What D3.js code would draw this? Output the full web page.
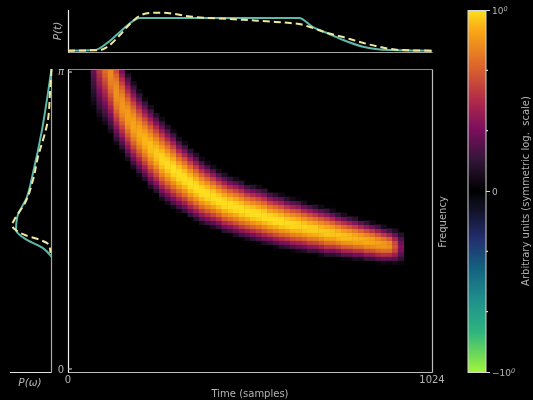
<!DOCTYPE html>
<html>
<head>
<meta charset="utf-8">
<script src="https://cdn.jsdelivr.net/npm/d3@7"></script>
<style>
  html, body { margin: 0; background: #000; }
  svg { display: block; filter: blur(0.3px); }
  text { font-family: "DejaVu Sans", sans-serif; fill: #b4b4b4; font-size: 10px; }
</style>
</head>
<body>
<svg id="chart" width="533" height="400"></svg>
<script>
// P(t), time in samples
const solidT = [0, 76, 110, 146, 203, 650, 689, 729, 774, 830, 906, 1024];
const solidP = [0.008, 0.026, 0.21, 0.5, 0.868, 0.868, 0.63, 0.474, 0.29, 0.113, 0.026, 0.008];
const dashT = [0, 90, 110, 146, 174, 203, 231, 259, 301, 343, 456, 568, 625, 650, 681, 729, 774, 821, 878, 934, 1024];
const dashP = [0.008, 0.026, 0.105, 0.421, 0.711, 0.934, 1.0, 1.008, 0.974, 0.908, 0.842, 0.776, 0.737, 0.711, 0.632, 0.474, 0.368, 0.237, 0.105, 0.026, 0.008];

// P(w), frequency as a fraction of pi
const solidF = [1, 0.921, 0.799, 0.657, 0.578, 0.508, 0.469, 0.436, 0.409, 0.38];
const solidW = [0, 0.089, 0.24, 0.468, 0.62, 0.873, 0.899, 0.62, 0.215, 0];
const dashF = [1, 0.921, 0.832, 0.789, 0.71, 0.634, 0.558, 0.5, 0.485, 0.47, 0.452, 0.436, 0.419, 0.393];
const dashW = [0, 0.038, 0.089, 0.165, 0.342, 0.468, 0.671, 0.95, 1.0, 0.92, 0.671, 0.291, 0.06, 0.025];

// spectrogram, read column by column: ridge frequency, half height and peak level
const firstCol = 4;
const ridgeF = [1.162, 1.109, 1.056, 0.99, 0.921, 0.881, 0.845, 0.815, 0.789, 0.766, 0.743, 0.723, 0.703, 0.686, 0.67, 0.653, 0.64, 0.624, 0.611, 0.597, 0.587, 0.578, 0.568, 0.558, 0.551, 0.545, 0.538, 0.531, 0.526, 0.521, 0.515, 0.508, 0.503, 0.498, 0.493, 0.488, 0.485, 0.48, 0.475, 0.472, 0.467, 0.462, 0.459, 0.454, 0.449, 0.446, 0.442, 0.439, 0.434, 0.431, 0.426, 0.422, 0.419, 0.416, 0.413];
const halfF = [0.297, 0.281, 0.248, 0.208, 0.175, 0.158, 0.152, 0.149, 0.145, 0.142, 0.142, 0.139, 0.139, 0.135, 0.132, 0.125, 0.122, 0.119, 0.116, 0.112, 0.109, 0.106, 0.102, 0.102, 0.099, 0.099, 0.099, 0.096, 0.096, 0.096, 0.096, 0.092, 0.092, 0.092, 0.089, 0.089, 0.089, 0.086, 0.086, 0.083, 0.083, 0.083, 0.079, 0.076, 0.076, 0.073, 0.073, 0.069, 0.069, 0.066, 0.066, 0.063, 0.059, 0.059, 0.056];
const peakL = [0.5, 0.72, 0.78, 0.8, 0.82, 0.84, 0.86, 0.88, 0.9, 0.92, 0.94, 0.96, 0.98, 0.99, 1, 1, 1, 1, 1, 1, 1, 1, 1, 1, 1, 1, 1, 1, 1, 1, 1, 1, 1, 1, 0.99, 0.99, 0.98, 0.98, 0.97, 0.97, 0.96, 0.96, 0.95, 0.95, 0.94, 0.93, 0.92, 0.91, 0.9, 0.89, 0.87, 0.85, 0.82, 0.64, 0.36];
// level across the ridge, from centre to edge of the band
const sectionD = [0, 0.1, 0.2, 0.3, 0.4, 0.5, 0.6, 0.7, 0.8, 0.9, 1];
const sectionL = [1, 0.99, 0.94, 0.86, 0.76, 0.65, 0.53, 0.4, 0.27, 0.13, 0];

// colour bar
const colorStops = [-1, -0.89, -0.78, -0.6, -0.42, -0.27, -0.12, -0.05, 0, 0.16, 0.34, 0.5, 0.67, 0.89, 1];
const colorHex = ['#a2f53a', '#66d45e', '#2fb57e', '#1f8f8c', '#14607f', '#233070', '#13142f', '#0a0a14', '#000000', '#2f1535', '#7c0f5e', '#b02a4a', '#d95f2e', '#f9a814', '#fde020'];
const colorTicks = [-1, 0, 1];
const colorMinor = [-2 / 3, -1 / 3, 1 / 3, 2 / 3];

const svg = d3.select('#chart');
const x = d3.scaleLinear().domain([0, 1024]).range([68, 432]);
const y = d3.scaleLinear().domain([0, 1]).range([372, 69]);
const pT = d3.scaleLinear().domain([0, 1]).range([51, 13]);
const pW = d3.scaleLinear().domain([0, 1]).range([51.5, 12]);
const c = d3.scaleLinear().domain(colorStops).range(colorHex).clamp(true);
const cY = d3.scaleLinear().domain([-1, 1]).range([372, 10]);
const across = d3.scaleLinear().domain(sectionD).range(sectionL).clamp(true);

// Heat map
const nRows = 76, colW = 16;
const cells = [];
ridgeF.forEach((r, i) => {
  d3.range(nRows).forEach(row => {
    const f = (row + 0.5) / nRows;
    const v = peakL[i] * across(Math.abs(f - r) / halfF[i]);
    if (v > 0.02) cells.push({ col: i + firstCol, row: row, v: v });
  });
});
svg.append('g')
  .style('filter', 'blur(0.5px)')
  .selectAll('rect')
  .data(cells)
  .enter()
  .append('rect')
  .attr('x', d => x(d.col * colW))
  .attr('y', d => y((d.row + 1) / nRows))
  .attr('width', x(colW) - x(0) + 0.5)
  .attr('height', y(0) - y(1 / nRows) + 0.5)
  .style('fill', d => c(d.v));

// Main frame
const grey = '#bdbdbd';
const frame = (x1, y1, x2, y2, col) => svg.append('line')
  .attr('x1', x1).attr('y1', y1).attr('x2', x2).attr('y2', y2)
  .style('stroke', col).style('stroke-width', 1.2);
frame(68, 69.5, 432.5, 69.5, '#8c8c8c');
frame(432.5, 69.5, 432.5, 372.5, grey);
frame(68, 372.5, 432.5, 372.5, grey);
frame(68.5, 69.5, 68.5, 372.5, '#f0f0f0');
[y(0.99), y(0.01)].forEach(t => frame(68, t, 72, t, grey));

// Top panel
frame(68, 52.5, 432.5, 52.5, '#a8a8a8');
frame(68.5, 10, 68.5, 52.5, '#f0f0f0');
const lineT = d3.line().x(d => x(d[0])).y(d => pT(d[1])).curve(d3.curveMonotoneX);
svg.append('path').attr('d', lineT(d3.zip(solidT, solidP)))
  .style('fill', 'none').style('stroke', '#5fb9aa').style('stroke-width', 2);
svg.append('path').attr('d', lineT(d3.zip(dashT, dashP)))
  .style('fill', 'none').style('stroke', '#efe9a0').style('stroke-width', 2).style('stroke-dasharray', '7,4');

// Left panel
frame(51.5, 69, 51.5, 372.5, '#a8a8a8');
frame(10, 372.5, 51.5, 372.5, '#e0e0e0');
const lineW = d3.line().x(d => pW(d[1])).y(d => y(d[0])).curve(d3.curveMonotoneY);
svg.append('path').attr('d', lineW(d3.zip(solidF, solidW)))
  .style('fill', 'none').style('stroke', '#5fb9aa').style('stroke-width', 2);
svg.append('path').attr('d', lineW(d3.zip(dashF, dashW)))
  .style('fill', 'none').style('stroke', '#efe9a0').style('stroke-width', 2).style('stroke-dasharray', '7,4');

// Colour bar
const barV = d3.range(-1, 1, 2 / 362);
svg.append('g').selectAll('rect')
  .data(barV)
  .enter()
  .append('rect')
  .attr('x', 468)
  .attr('width', 18)
  .attr('y', d => cY(d) - 1)
  .attr('height', 1.5)
  .style('fill', d => c(d));
svg.append('rect').attr('x', 468).attr('y', 10.5).attr('width', 18).attr('height', 362)
  .style('fill', 'none').style('stroke', '#d8d8d8').style('stroke-width', 1);
const barAxis = d3.axisRight(cY).tickValues(colorTicks).tickSize(4).tickFormat('');
const barG = svg.append('g').attr('transform', 'translate(486,0)').call(barAxis);
barG.select('.domain').remove();
barG.selectAll('line').style('stroke', '#d8d8d8');
colorMinor.forEach(t => frame(486, cY(t), 488, cY(t), '#d8d8d8'));
const power = (sel, px, py, sign) => {
  const t = sel.append('text').attr('x', px).attr('y', py).style('font-size', '9px');
  t.append('tspan').text(sign + '10');
  t.append('tspan').attr('dy', -3.5).style('font-size', '6.5px').style('font-style', 'italic').text('0');
};
power(svg, 492, 14, '');
svg.append('text').attr('x', 492).attr('y', 194.5).style('font-size', '9px').text('0');
power(svg, 492, 376, '\u2212');

// Labels
const label = (txt, px, py, rot, anchor) => svg.append('text')
  .attr('text-anchor', anchor || 'middle')
  .attr('transform', `translate(${px},${py})` + (rot ? ` rotate(${rot})` : ''))
  .text(txt);
label('0', x(0), 383);
label('1024', x(1024), 383);
label('Time (samples)', 250, 397);
label('Frequency', 446, 222, -90);
label('\u03c0', 61, 75).style('font-style', 'italic');
label('0', 61, 373);
label('P(\u03c9)', 30, 386).style('font-style', 'italic').style('font-size', '10.5px');
label('P(t)', 61, 31, -90).style('font-style', 'italic').style('font-size', '10.5px');
label('Arbitrary units (symmetric log.  scale)', 529, 191, -90).style('white-space', 'pre');
</script>
</body>
</html>
